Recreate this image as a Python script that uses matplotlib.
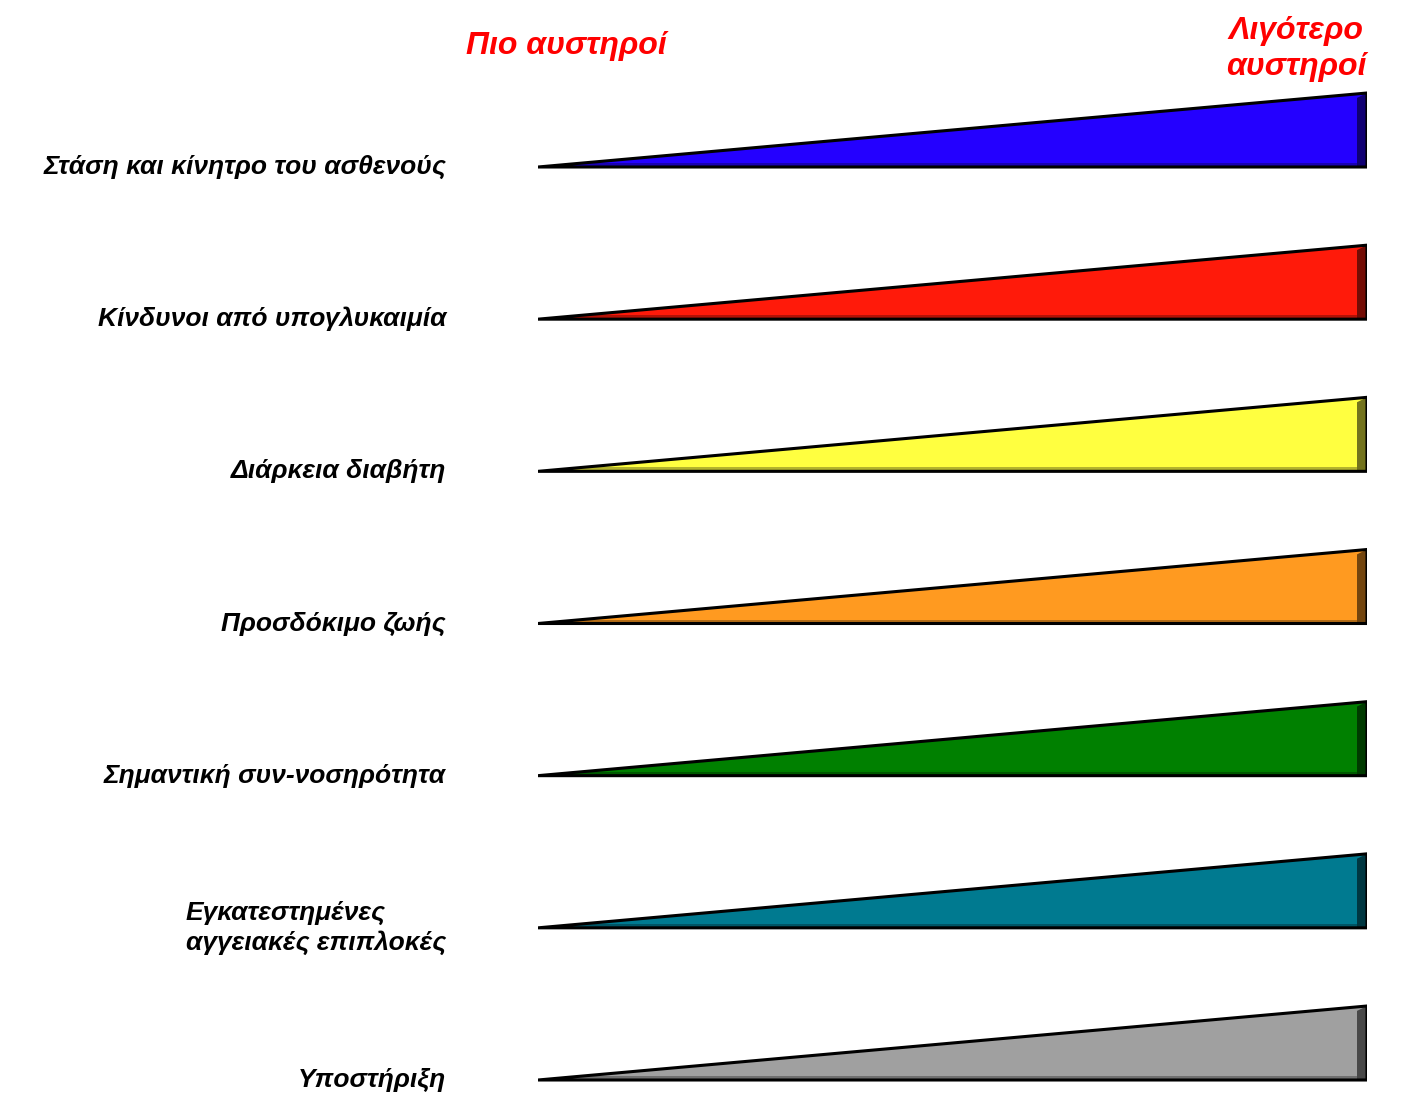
import matplotlib
matplotlib.use("Agg")
import matplotlib.pyplot as plt
from matplotlib.patches import Polygon
import matplotlib.colors as mcolors

# ---- data ----
categories = [
    "Στάση και κίνητρο του ασθενούς",
    "Κίνδυνοι από υπογλυκαιμία",
    "Διάρκεια διαβήτη",
    "Προσδόκιμο ζωής",
    "Σημαντική συν-νοσηρότητα",
    "Εγκατεστημένες\nαγγειακές επιπλοκές",
    "Υποστήριξη",
]
wedge_start = [0.0] * 7   # more stringent end
wedge_end = [1.0] * 7     # less stringent end
colors = ["#2400ff", "#ff1a0a", "#ffff40", "#ff9a20", "#008000", "#007a90", "#a0a0a0"]
left_header = "Πιο αυστηροί"
right_header = "Λιγότερο\nαυστηροί"

# ---- layout ----
W, H = 1410, 1109
fig = plt.figure(figsize=(W / 100, H / 100), dpi=100)
fig.patch.set_facecolor("white")
x0_px, x1_px = 538, 1367
first_base_px, last_base_px = 167, 1080
n = len(categories)
step_px = (last_base_px - first_base_px) / (n - 1)
ax = fig.add_axes([x0_px / W, 0, (x1_px - x0_px) / W, 1])
ax.set_xlim(0, 1)
ax.set_ylim((H - first_base_px) / step_px, -first_base_px / step_px)
ax.axis("off")

wedge_h = 74 / step_px
d = 10 / (x1_px - x0_px)      # bevel width in x
b = 4 / step_px               # bottom bevel height

font = ["Liberation Sans", "DejaVu Sans"]

for i, (cat, xs, xe, c) in enumerate(zip(categories, wedge_start, wedge_end, colors)):
    base = i
    top = base - wedge_h
    dark = tuple(v * 0.45 for v in mcolors.to_rgb(c))
    mid = tuple(v * 0.7 for v in mcolors.to_rgb(c))
    ax.add_patch(Polygon([(xs, base), (xe, base), (xe, top)], closed=True,
                         facecolor=c, edgecolor="none", zorder=2))
    xb = xs + (xe - xs) * (b / wedge_h)
    ax.add_patch(Polygon([(xb, base - b), (xe - d, base - b), (xe - d, base), (xs, base)],
                         closed=True, facecolor=mid, edgecolor="none", zorder=3))
    xr = xe - d
    ax.add_patch(Polygon([(xr, base - wedge_h * (xr - xs) / (xe - xs) + b), (xe, top),
                          (xe, base), (xr, base)],
                         closed=True, facecolor=dark, edgecolor="none", zorder=3))
    ax.add_patch(Polygon([(xs, base), (xe, base), (xe, top)], closed=True,
                         facecolor="none", edgecolor="black", linewidth=2.2,
                         joinstyle="miter", zorder=4))
    ax.text(-92 / (x1_px - x0_px), base, cat, ha="right", va="center",
            multialignment="left", fontsize=19, fontweight="bold", fontstyle="italic",
            family=font, color="black", linespacing=1.3)

fig.text(566 / W, 1 - 46 / H, left_header, ha="center", va="center", color="#ff0000",
         fontsize=23, fontweight="bold", fontstyle="italic", family=font)
fig.text(1296 / W, 1 - 49 / H, right_header, ha="center", va="center", color="#ff0000",
         fontsize=23, fontweight="bold", fontstyle="italic", family=font, linespacing=1.27)

fig.savefig("out.png", dpi=100, facecolor="white")
